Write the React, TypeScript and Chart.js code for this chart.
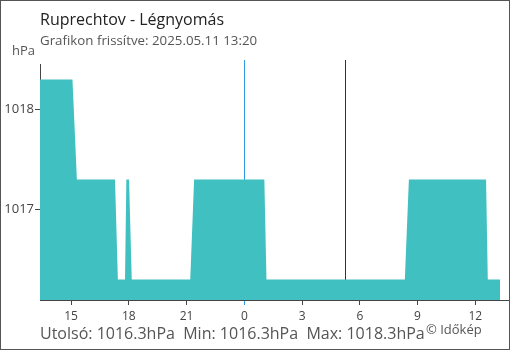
import React, { useEffect, useRef } from 'react';
import { Chart, registerables } from 'chart.js';
Chart.register(...registerables);

// hours since midnight of 2025.05.10 (values > 24 belong to 05.11)
const times = [13.383, 15.07, 15.3, 17.28, 17.43, 17.8, 17.87, 18.01, 18.15, 21.19, 21.39, 25.04, 25.15, 32.34, 32.55, 36.56, 36.65, 37.29];
const pressure = [1018.3, 1018.3, 1017.3, 1017.3, 1016.3, 1016.3, 1017.3, 1017.3, 1016.3, 1016.3, 1017.3, 1017.3, 1016.3, 1016.3, 1017.3, 1017.3, 1016.3, 1016.3];
const xTicks = [15, 18, 21, 24, 27, 30, 33, 36];
const yTicks = [1017, 1018];
const midnight = 24;
const sunrise = 29.23;
const title = 'Ruprechtov - Légnyomás';
const subtitle = 'Grafikon frissítve: 2025.05.11 13:20';
const footer = 'Utolsó: 1016.3hPa  Min: 1016.3hPa  Max: 1018.3hPa';
const credit = '© Időkép';
const unit = 'hPa';

const FONT = '"Open Sans", sans-serif';
const FILL = '#41c0c1';
const BLUE = '#2d9ce0';
const AXIS = '#444';

export default function App() {
  const ref = useRef<HTMLCanvasElement>(null);
  useEffect(() => {
    document.body.style.margin = '0';
    const canvas = ref.current!;
    const overlay = {
      id: 'overlay',
      beforeDatasetsDraw(chart: any) {
        const { ctx, chartArea, scales } = chart;
        ctx.save();
        ctx.lineWidth = 1;
        ([[midnight, BLUE], [sunrise, '#333']] as [number, string][]).forEach(([v, c]) => {
          const px = Math.round(scales.x.getPixelForValue(v)) + 0.5;
          ctx.strokeStyle = c;
          ctx.beginPath();
          ctx.moveTo(px, 60);
          ctx.lineTo(px, chartArea.bottom);
          ctx.stroke();
        });
        ctx.restore();
      },
      afterDraw(chart: any) {
        const { ctx } = chart;
        ctx.save();
        ctx.textBaseline = 'alphabetic';
        ctx.textAlign = 'left';
        ctx.fillStyle = '#222';
        ctx.font = `16px ${FONT}`;
        ctx.fillText(title, 40, 25);
        ctx.fillStyle = '#555';
        ctx.font = `13.3px ${FONT}`;
        ctx.fillText(subtitle, 40, 45);
        ctx.font = `13px ${FONT}`;
        ctx.fillText(unit, 12, 55);
        ctx.font = `16px ${FONT}`;
        ctx.fillText(footer, 40, 339);
        ctx.font = `13px ${FONT}`;
        ctx.fillText(credit, 426, 334);
        ctx.strokeStyle = '#555';
        ctx.lineWidth = 1;
        ctx.strokeRect(0.5, 0.5, 509, 349);
        ctx.restore();
      },
    };
    const chart = new Chart(canvas, {
      type: 'line',
      data: {
        datasets: [
          {
            data: times.map((t, i) => ({ x: t, y: pressure[i] })),
            fill: 'start',
            backgroundColor: FILL,
            borderWidth: 0,
            pointRadius: 0,
            tension: 0,
          },
        ],
      },
      options: {
        animation: false,
        responsive: false,
        devicePixelRatio: 1,
        layout: { padding: { top: 64, right: 2, bottom: 0, left: 0 } },
        plugins: { legend: { display: false }, tooltip: { enabled: false } },
        scales: {
          x: {
            type: 'linear',
            min: 13.383,
            max: 37.7,
            afterBuildTicks: (s: any) => {
              s.ticks = xTicks.map((v) => ({ value: v }));
            },
            afterFit: (s: any) => {
              s.height = 50;
            },
            ticks: {
              callback: (v: any) => String(Number(v) % 24),
              color: AXIS,
              font: { family: FONT, size: 12 },
              padding: 4,
              maxRotation: 0,
              autoSkip: false,
            },
            grid: {
              drawOnChartArea: false,
              tickLength: 5,
              color: (c: any) => (c.tick && c.tick.value === midnight ? BLUE : AXIS),
            },
            border: { color: AXIS },
          },
          y: {
            min: 1016.095,
            max: 1018.455,
            afterBuildTicks: (s: any) => {
              s.ticks = yTicks.map((v) => ({ value: v }));
            },
            afterFit: (s: any) => {
              s.width = 40;
            },
            ticks: {
              callback: (v: any) => String(v),
              color: AXIS,
              font: { family: FONT, size: 13 },
              padding: 1,
            },
            grid: { drawOnChartArea: false, tickLength: 5, color: AXIS },
            border: { color: AXIS },
          },
        },
      },
      plugins: [overlay],
    } as any);
    return () => chart.destroy();
  }, []);
  return <canvas ref={ref} width={510} height={350} style={{ display: 'block', width: 510, height: 350 }} />;
}
